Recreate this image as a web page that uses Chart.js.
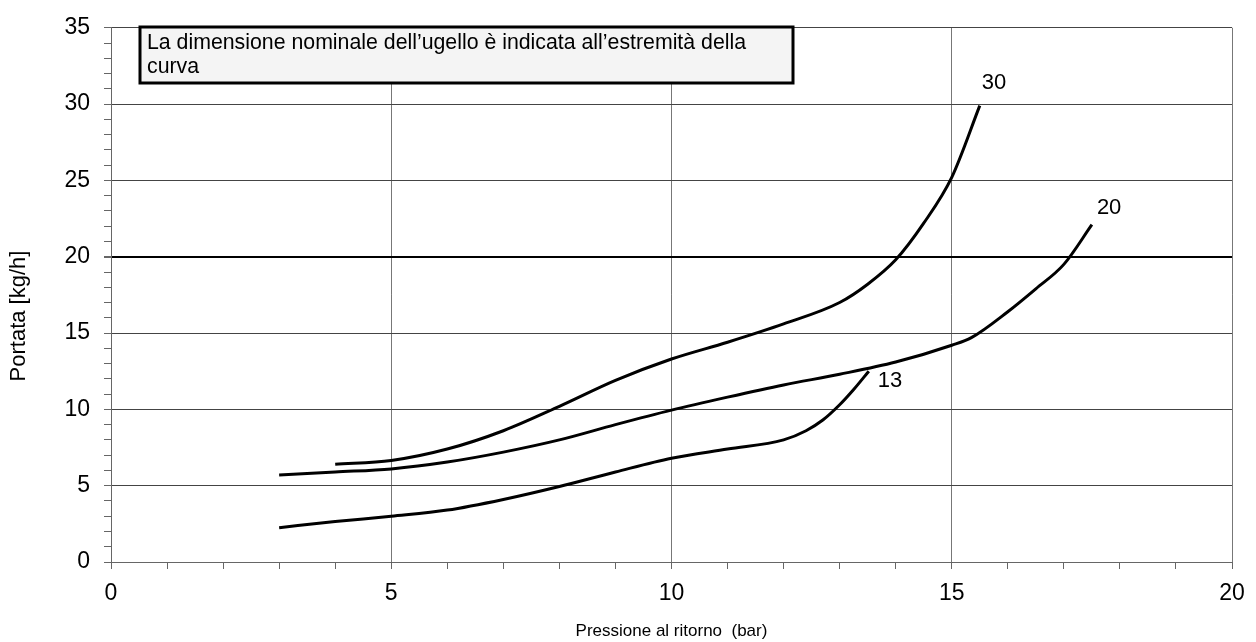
<!DOCTYPE html>
<html>
<head>
<meta charset="utf-8">
<script src="https://cdn.jsdelivr.net/npm/chart.js@4"></script>
<style>
  html, body { margin: 0; padding: 0; background: #fff; }
  #wrap { width: 1256px; height: 642px; }
</style>
</head>
<body>
<div id="wrap"><canvas id="chart" width="1256" height="642"></canvas></div>
<script>
(function () {
  'use strict';

  // ── Data ──────────────────────────────────────────────────────────────
  var x13 = [3, 4, 5, 6, 7, 8, 9, 10, 11, 12, 12.4, 12.7, 13, 13.25, 13.52];
  var y13 = [2.25, 2.65, 3.0, 3.4, 4.1, 4.95, 5.9, 6.8, 7.4, 8.0, 8.6, 9.3, 10.3, 11.3, 12.5];

  var x20 = [3, 4, 5, 6, 7, 8, 9, 10, 11, 12, 13, 14, 15, 15.35, 16, 16.5, 17, 17.5];
  var y20 = [5.7, 5.9, 6.1, 6.55, 7.2, 8.0, 9.0, 9.95, 10.8, 11.6, 12.3, 13.1, 14.2, 14.7, 16.4, 17.9, 19.5, 22.1];

  var x30 = [4, 5, 6, 7, 8, 9, 10, 11, 12, 13, 13.5, 14, 14.5, 15, 15.5];
  var y30 = [6.4, 6.65, 7.4, 8.6, 10.2, 11.9, 13.3, 14.4, 15.6, 17.0, 18.2, 19.8, 22.2, 25.2, 29.9];

  var curveNames = ['13', '20', '30'];

  var xTitle = 'Pressione al ritorno  (bar)';
  var yTitle = 'Portata [kg/h]';
  var noteLines = [
    'La dimensione nominale dell\u2019ugello \u00e8 indicata all\u2019estremit\u00e0 della',
    'curva'
  ];

  var FONT = '"Liberation Sans", Arial, Helvetica, sans-serif';

  function pts(xs, ys) {
    return xs.map(function (x, i) { return { x: x, y: ys[i] }; });
  }

  function curve(name, xs, ys) {
    return {
      label: name,
      data: pts(xs, ys),
      borderColor: '#000',
      borderWidth: 3,
      pointRadius: 0,
      showLine: true,
      fill: false,
      cubicInterpolationMode: 'monotone',
    };
  }

  // grid only on major ticks, short tick marks on every unit
  function gridOpts(isY) {
    return {
      color: function (c) {
        var v = c.tick && c.tick.value;
        if (v % 5 !== 0) return 'rgba(0,0,0,0)';
        if (isY && v === 20) return '#000';
        return isY ? '#444' : '#777';
      },
      lineWidth: function (c) {
        return (isY && c.tick && c.tick.value === 20) ? 2 : 1;
      },
      tickColor: '#666',
      tickLength: 7,
      drawTicks: true,
    };
  }

  // curve end labels, note box, rotated y title
  var decorations = {
    id: 'decorations',
    afterDatasetsDraw: function (chart) {
      var ctx = chart.ctx;
      var xs = chart.scales.x, ys = chart.scales.y;
      var ends = [[x13, y13], [x20, y20], [x30, y30]];
      ctx.save();
      ctx.fillStyle = '#000';
      ctx.font = '22px ' + FONT;
      ctx.textAlign = 'left';
      ctx.textBaseline = 'alphabetic';
      var off = [[9, 16], [5, -11], [2, -17]];
      ends.forEach(function (e, i) {
        var n = e[0].length - 1;
        var px = xs.getPixelForValue(e[0][n]);
        var py = ys.getPixelForValue(e[1][n]);
        ctx.fillText(curveNames[i], px + off[i][0], py + off[i][1]);
      });

      // note box
      var bx = 140, by = 27, bw = 653, bh = 56;
      ctx.fillStyle = '#f4f4f4';
      ctx.fillRect(bx, by, bw, bh);
      ctx.lineWidth = 3;
      ctx.strokeStyle = '#000';
      ctx.strokeRect(bx, by, bw, bh);
      ctx.fillStyle = '#000';
      ctx.font = '21.3px ' + FONT;
      ctx.fillText(noteLines[0], bx + 7, by + 22);
      ctx.fillText(noteLines[1], bx + 7, by + 46);

      // y title
      ctx.translate(19, 316);
      ctx.rotate(-Math.PI / 2);
      ctx.textAlign = 'center';
      ctx.textBaseline = 'middle';
      ctx.font = '22px ' + FONT;
      ctx.fillText(yTitle, 0, 0);
      ctx.restore();
    }
  };

  new Chart(document.getElementById('chart'), {
    type: 'scatter',
    data: {
      datasets: [
        curve(curveNames[0], x13, y13),
        curve(curveNames[1], x20, y20),
        curve(curveNames[2], x30, y30),
      ],
    },
    options: {
      responsive: false,
      animation: false,
      layout: { padding: { left: 0, right: 24, top: 19, bottom: 0 } },
      plugins: {
        legend: { display: false },
        tooltip: { enabled: false },
      },
      scales: {
        x: {
          type: 'linear',
          min: 0, max: 20,
          afterFit: function (s) { s.height = 80; },
          ticks: {
            stepSize: 1,
            autoSkip: false,
            maxRotation: 0,
            padding: 11,
            color: '#000',
            font: { family: FONT, size: 23 },
            callback: function (v) { return v % 5 === 0 ? String(v) : ''; },
          },
          grid: gridOpts(false),
          border: { color: '#666', width: 1 },
          title: {
            display: true,
            text: xTitle,
            color: '#000',
            font: { family: FONT, size: 17 },
            padding: { top: 0, bottom: 0 },
          },
        },
        y: {
          type: 'linear',
          min: 0, max: 35,
          afterFit: function (s) { s.width = 111; },
          ticks: {
            stepSize: 1,
            autoSkip: false,
            padding: 14,
            color: '#000',
            font: { family: FONT, size: 23 },
            callback: function (v) { return v % 5 === 0 ? String(v) : ''; },
          },
          grid: gridOpts(true),
          border: { color: '#666', width: 1 },
        },
      },
    },
    plugins: [decorations],
  });
})();
</script>
</body>
</html>
